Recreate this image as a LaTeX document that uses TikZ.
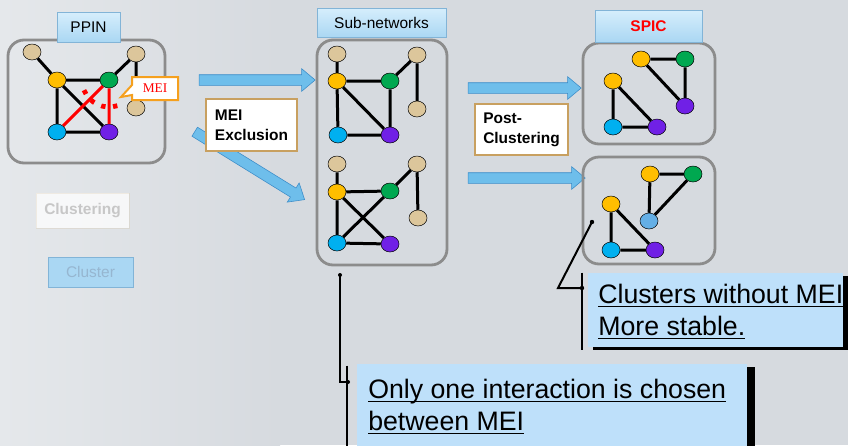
\documentclass[tikz,border=0pt]{standalone}
\usepackage{fontspec}
\setmainfont{Liberation Sans}
\newfontfamily\meiserif{Liberation Serif}
\usetikzlibrary{positioning,fit,shapes.geometric,shapes.arrows,shapes.callouts,shadows}

\newcommand{\ultext}[1]{\setbox0\hbox{#1}\rlap{\rule[-2.6pt]{\wd0}{1.1pt}}\box0}

\definecolor{bggray}{RGB}{214,218,223}
\definecolor{bglight}{RGB}{229,232,235}
\definecolor{boxgray}{RGB}{140,140,140}
\definecolor{nodetan}{RGB}{220,198,155}
\definecolor{nodegold}{RGB}{255,190,0}
\definecolor{nodegreen}{RGB}{0,168,80}
\definecolor{nodeblue}{RGB}{0,176,240}
\definecolor{nodepurple}{RGB}{112,32,230}
\definecolor{nodepale}{RGB}{100,175,230}
\definecolor{tagtop}{RGB}{214,238,252}
\definecolor{tagbottom}{RGB}{170,215,243}
\definecolor{tagedge}{RGB}{130,180,215}
\definecolor{stepedge}{RGB}{200,160,96}
\definecolor{meiorange}{RGB}{245,160,30}
\definecolor{arrowblue}{RGB}{110,190,235}
\definecolor{arrowedge}{RGB}{60,140,200}
\definecolor{notefill}{RGB}{190,224,250}
\definecolor{fadedtext}{RGB}{150,182,208}

\begin{document}
\begin{tikzpicture}[x=0.25mm,y=-0.25mm,
  vertex/.style={ellipse,draw=black,line width=0.35pt,minimum width=4.5mm,minimum height=4mm,inner sep=0pt},
  link/.style={line width=0.75mm},
  meilink/.style={link,red},
  group/.style={draw=boxgray,line width=0.7mm,rounded corners=4mm,inner sep=0pt},
  tag/.style={draw=tagedge,top color=tagtop,bottom color=tagbottom,line width=0.4pt,inner sep=0pt,font=\fontsize{11}{13}\selectfont},
  stepbox/.style={draw=stepedge,fill=white,line width=0.5mm,inner sep=0pt,align=left,font=\bfseries\fontsize{11}{14}\selectfont},
  bigarrow/.style={single arrow,draw=arrowedge,fill=arrowblue,line width=0.4pt,inner sep=0pt,inner ysep=1.25mm,single arrow head extend=1.5mm,single arrow tip angle=80,minimum width=0pt},
  noteback/.style={fill=notefill,inner sep=0pt},
  notetext/.style={anchor=north west,align=left,inner sep=0pt,font=\fontsize{19}{22.8}\selectfont},
  bar/.style={line width=0.6mm},
  leader/.style={line width=0.5mm}]

  \useasboundingbox (0,0) rectangle (848,445);
  \clip (0,0) rectangle (848,445);
  \fill[bggray] (0,0) rectangle (848,445);
  \shade[left color=bglight,right color=bggray] (0,0) rectangle (280,445);

  % PPIN
  \node[group,fit={(8,40) (165,163)}] (ppinbox) {};
  \node[tag,minimum width=15.75mm,minimum height=7.5mm] (ppin) at (88.5,27) {PPIN};
  \node[vertex,fill=nodetan] (pt1) at (32,52) {};
  \node[vertex,fill=nodegold] (py) at (57,80) {};
  \node[vertex,fill=nodegreen] (pg) at (109,80) {};
  \node[vertex,fill=nodetan] (pt2) at (136,54) {};
  \node[vertex,fill=nodetan] (pt3) at (136,108) {};
  \node[vertex,fill=nodeblue] (pb) at (57,132) {};
  \node[vertex,fill=nodepurple] (pv) at (109,132) {};
  \draw[link] (pt1) -- (py) (py) -- (pg) (py) -- (pb) (py) -- (pv) (pb) -- (pv)
    (pg) -- (pt2) (pt2) -- (pt3);
  \draw[meilink] (pg) -- (pb) (pg) -- (pv);
  \draw[red,line width=1.2mm,dash pattern=on 1.1mm off 1.9mm] (pg) ++(72:27) arc[start angle=72,end angle=158,radius=27];
  \coordinate (meipoint) at (121,97);
  \node[rectangle callout,draw=meiorange,fill=white,line width=0.5mm,minimum width=11.5mm,minimum height=5.75mm,inner sep=0pt,
    callout absolute pointer=(meipoint),text=red,font=\meiserif\fontsize{9.5}{11}\selectfont] (meitag) at (155,88.5) {MEI};

  % faded
  \node[minimum width=23.25mm,minimum height=8.75mm,fill=white,fill opacity=0.75,draw=stepedge,draw opacity=0.15,inner sep=0pt,
    text=black!22,text opacity=1,font=\bfseries\fontsize{11}{13}\selectfont] (clustering) at (82.5,210.5) {Clustering};
  \node[minimum width=21.25mm,minimum height=7.5mm,fill=tagbottom,draw=tagedge,inner sep=0pt,text=fadedtext,
    font=\fontsize{11}{13}\selectfont] (cluster) at (90.5,272) {Cluster};

  % arrows
  \node[bigarrow,minimum height=29mm] (arrowa) at (254,80) {};
  \node[bigarrow,minimum height=32.3mm,rotate=-31.7] (arrowb) at (247,164) {};
  \node[bigarrow,minimum height=28.25mm] (arrowc) at (521.5,88) {};
  \node[bigarrow,minimum height=29.25mm] (arrowd) at (523.5,178) {};
  \node[stepbox,minimum width=22.75mm,minimum height=13mm] (exclusion) at (251.5,125) {MEI\\Exclusion};
  \node[stepbox,minimum width=23.25mm,minimum height=12.75mm] (post) at (521.5,129.5) {Post-\\Clustering};

  % Sub-networks
  \node[group,fit={(317,40) (447,265)}] (subbox) {};
  \node[tag,minimum width=32.25mm,minimum height=7.25mm] (sub) at (381.5,22.5) {Sub-networks};
  \node[vertex,fill=nodetan] (ut1) at (337,54) {};
  \node[vertex,fill=nodegold] (uy) at (337,81) {};
  \node[vertex,fill=nodegreen] (ug) at (390,81) {};
  \node[vertex,fill=nodetan] (ut2) at (417,55) {};
  \node[vertex,fill=nodetan] (ut3) at (417,109) {};
  \node[vertex,fill=nodeblue] (ub) at (338,135) {};
  \node[vertex,fill=nodepurple] (uv) at (390,135) {};
  \draw[link] (ut1) -- (uy) (uy) -- (ug) (uy) -- (ub) (uy) -- (uv) (ug) -- (uv)
    (ub) -- (uv) (ug) -- (ut2) (ut2) -- (ut3);
  \node[vertex,fill=nodetan] (lt1) at (337,164) {};
  \node[vertex,fill=nodegold] (ly) at (337,192) {};
  \node[vertex,fill=nodegreen] (lg) at (390,191) {};
  \node[vertex,fill=nodetan] (lt2) at (417,164) {};
  \node[vertex,fill=nodetan] (lt3) at (418,218) {};
  \node[vertex,fill=nodeblue] (lb) at (337,243) {};
  \node[vertex,fill=nodepurple] (lv) at (390,244) {};
  \draw[link] (lt1) -- (ly) (ly) -- (lg) (ly) -- (lb) (ly) -- (lv) (lg) -- (lb)
    (lb) -- (lv) (lg) -- (lt2) (lt2) -- (lt3);

  % SPIC
  \node[group,fit={(583,43) (715,144)}] (spicone) {};
  \node[tag,minimum width=26.75mm,minimum height=8mm,text=red,font=\bfseries\fontsize{11}{13}\selectfont] (spic) at (648.5,26) {SPIC};
  \node[vertex,fill=nodegold] (sy) at (641,59) {};
  \node[vertex,fill=nodegreen] (sg) at (685,59) {};
  \node[vertex,fill=nodepurple] (sv) at (685,106) {};
  \node[vertex,fill=nodegold] (sy2) at (613,81) {};
  \node[vertex,fill=nodeblue] (sb) at (613,127) {};
  \node[vertex,fill=nodepurple] (sv2) at (657,127) {};
  \draw[link] (sy) -- (sg) (sg) -- (sv) (sy) -- (sv) (sy2) -- (sb) (sb) -- (sv2) (sy2) -- (sv2);
  \node[group,fit={(583,157) (715,264)}] (spictwo) {};
  \node[vertex,fill=nodegold] (cy) at (650,174) {};
  \node[vertex,fill=nodegreen] (cg) at (693,174) {};
  \node[vertex,fill=nodepale] (cp) at (649,221) {};
  \node[vertex,fill=nodegold] (cy2) at (611,204) {};
  \node[vertex,fill=nodeblue] (cb) at (611,250) {};
  \node[vertex,fill=nodepurple] (cv) at (655,250) {};
  \draw[link] (cy) -- (cg) (cy) -- (cp) (cg) -- (cp) (cy2) -- (cb) (cb) -- (cv) (cy2) -- (cv);

  % notes
  \node[noteback,fit={(588,273) (843,347)},drop shadow={shadow xshift=1.25mm,shadow yshift=-0.75mm,fill=black,opacity=1}] (stablebox) {};
  \node[notetext] (stabletext) at (598,284) {\ultext{Clusters without MEI}\\\ultext{More stable.}};
  \draw[bar] ([xshift=-1.5mm]stablebox.north west) -- ([xshift=-1.5mm,yshift=-0.75mm]stablebox.south west);
  \coordinate (stabletip) at (592,222);
  \coordinate (stablebend) at (558,288);
  \coordinate (stableend) at (582,288);
  \draw[leader] (stabletip) -- (stablebend) -- (stableend);
  \fill (stabletip) circle (0.55mm) (stableend) circle (0.55mm);

  \node[noteback,fit={(357,364) (747,470)},drop shadow={shadow xshift=2mm,shadow yshift=-0.75mm,fill=black,opacity=1}] (chosenbox) {};
  \node[notetext] (chosentext) at (368,379) {\ultext{Only one interaction is chosen}\\\ultext{between MEI}};
  \draw[bar] ([xshift=-2.5mm,yshift=-0.5mm]chosenbox.north west) -- ([xshift=-2.5mm]chosenbox.south west);
  \coordinate (chosentip) at (340,275);
  \coordinate (chosenbend) at (340,382);
  \coordinate (chosenend) at (348,382);
  \draw[leader,line width=0.4mm] (chosentip) -- (chosenbend) -- (chosenend);
  \fill (chosentip) circle (0.5mm) (chosenend) circle (0.5mm);
\end{tikzpicture}
\end{document}
